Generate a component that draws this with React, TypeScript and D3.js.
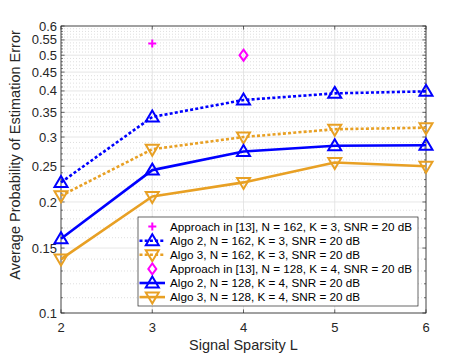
import React from "react";
import * as d3 from "d3";

const xVals = [2, 3, 4, 5, 6];
const algo2N162 = [0.226, 0.340, 0.378, 0.394, 0.399];
const algo3N162 = [0.208, 0.278, 0.300, 0.315, 0.318];
const algo2N128 = [0.159, 0.244, 0.274, 0.284, 0.285];
const algo3N128 = [0.140, 0.207, 0.226, 0.256, 0.250];
const approachN162 = [{ x: 3, y: 0.538 }];
const approachN128 = [{ x: 4, y: 0.50 }];
const yTicks = [0.1, 0.15, 0.2, 0.25, 0.3, 0.35, 0.4, 0.45, 0.5, 0.55, 0.6];
const yTickLabels = ["0.1", "0.15", "0.2", "0.25", "0.3", "0.35", "0.4", "0.45", "0.5", "0.55", "0.6"];
const legendLabels = [
  "Approach in [13], N = 162, K = 3, SNR = 20 dB",
  "Algo 2, N = 162, K = 3, SNR = 20 dB",
  "Algo 3, N = 162, K = 3, SNR = 20 dB",
  "Approach in [13], N = 128, K = 4, SNR = 20 dB",
  "Algo 2, N = 128, K = 4, SNR = 20 dB",
  "Algo 3, N = 128, K = 4, SNR = 20 dB",
];

const W = 471, H = 353;
const L = 61, R = 426, T = 26, B = 313;
const BLUE = "#0000FF";
const ORANGE = "#E8A024";
const MAG = "#FF00FF";
const AX = "#262626";
const DOT = "3,2.2";
const FONT = "'Liberation Sans', Arial, Helvetica, sans-serif";

function Marker({ type, x, y, color }: { type: string; x: number; y: number; color: string }) {
  if (type === "up") {
    return <path d={`M${x},${y - 6.5}L${x + 6.5},${y + 4.5}L${x - 6.5},${y + 4.5}Z`} fill="none" stroke={color} strokeWidth={2} strokeLinejoin="miter" />;
  }
  if (type === "down") {
    return <path d={`M${x},${y + 6.5}L${x + 6.5},${y - 4.5}L${x - 6.5},${y - 4.5}Z`} fill="none" stroke={color} strokeWidth={2} strokeLinejoin="miter" />;
  }
  if (type === "plus") {
    return <path d={`M${x - 4},${y}H${x + 4}M${x},${y - 4}V${y + 4}`} stroke={color} strokeWidth={2} fill="none" />;
  }
  return <path d={`M${x},${y - 5.5}L${x + 4},${y}L${x},${y + 5.5}L${x - 4},${y}Z`} fill="none" stroke={color} strokeWidth={2} />;
}

export default function App() {
  const x = d3.scaleLinear().domain([2, 6]).range([L, R]);
  const y = d3.scaleLog().domain([0.1, 0.6]).range([B, T]);
  const line = d3.line<number>().x((_, i) => x(xVals[i])).y((d) => y(d));

  const minor = d3.range(11, 60).map((v) => v / 100).filter((v) => Math.round(v * 100) % 5 !== 0);

  const series = [
    { data: algo2N162, color: BLUE, dash: DOT, marker: "up" },
    { data: algo3N162, color: ORANGE, dash: DOT, marker: "down" },
    { data: algo2N128, color: BLUE, dash: null, marker: "up" },
    { data: algo3N128, color: ORANGE, dash: null, marker: "down" },
  ];

  const legendItems = [
    { marker: "plus", color: MAG, dash: "none" },
    { marker: "up", color: BLUE, dash: DOT },
    { marker: "down", color: ORANGE, dash: DOT },
    { marker: "diamond", color: MAG, dash: "none" },
    { marker: "up", color: BLUE, dash: null },
    { marker: "down", color: ORANGE, dash: null },
  ];
  const lgX = 138, lgY = 217, lgW = 280, lgH = 89, rowH = 14.1, row0 = 226.6;

  return (
    <svg width={W} height={H} style={{ position: "absolute", left: 0, top: 0, background: "#fff" }} fontFamily={FONT}>
      <rect x={0} y={0} width={W} height={H} fill="#fff" />
      {minor.map((v) => (
        <line key={"mg" + v} x1={L} x2={R} y1={y(v)} y2={y(v)} stroke="#d0d0d0" strokeWidth={0.7} strokeDasharray="1,2" />
      ))}
      {yTicks.map((v) => (
        <line key={"g" + v} x1={L} x2={R} y1={y(v)} y2={y(v)} stroke="#e0e0e0" strokeWidth={0.8} />
      ))}
      {xVals.map((v) => (
        <line key={"gx" + v} x1={x(v)} x2={x(v)} y1={T} y2={B} stroke="#e0e0e0" strokeWidth={0.8} />
      ))}
      {minor.map((v) => (
        <g key={"mt" + v}>
          <line x1={L} x2={L + 2} y1={y(v)} y2={y(v)} stroke={AX} strokeWidth={0.6} />
          <line x1={R} x2={R - 2} y1={y(v)} y2={y(v)} stroke={AX} strokeWidth={0.6} />
        </g>
      ))}
      {yTicks.map((v) => (
        <g key={"t" + v}>
          <line x1={L} x2={L + 3.6} y1={y(v)} y2={y(v)} stroke={AX} strokeWidth={0.7} />
          <line x1={R} x2={R - 3.6} y1={y(v)} y2={y(v)} stroke={AX} strokeWidth={0.7} />
        </g>
      ))}
      {xVals.map((v) => (
        <g key={"tx" + v}>
          <line x1={x(v)} x2={x(v)} y1={B} y2={B - 3.6} stroke={AX} strokeWidth={0.7} />
          <line x1={x(v)} x2={x(v)} y1={T} y2={T + 3.6} stroke={AX} strokeWidth={0.7} />
        </g>
      ))}
      <rect x={L} y={T} width={R - L} height={B - T} fill="none" stroke={AX} strokeWidth={0.8} />
      {yTicks.map((v, i) => (
        <text key={"yl" + v} x={L - 4} y={y(v)} dy="0.35em" textAnchor="end" fontSize={13} fill={AX}>
          {yTickLabels[i]}
        </text>
      ))}
      {xVals.map((v) => (
        <text key={"xl" + v} x={x(v)} y={327} dy="0.35em" textAnchor="middle" fontSize={13} fill={AX}>
          {v}
        </text>
      ))}
      <text x={(L + R) / 2} y={345} dy="0.35em" textAnchor="middle" fontSize={14.5} fill={AX}>
        Signal Sparsity L
      </text>
      <text transform={`translate(15,${155}) rotate(-90)`} textAnchor="middle" dy="0.35em" fontSize={14.5} fill={AX}>
        Average Probability of Estimation Error
      </text>
      {series.map((s, i) => (
        <g key={"s" + i}>
          <path d={line(s.data) || ""} fill="none" stroke={s.color} strokeWidth={2.6} strokeDasharray={s.dash || undefined} strokeLinejoin="round" />
          {s.data.map((d, j) => (
            <Marker key={j} type={s.marker} x={x(xVals[j])} y={y(d)} color={s.color} />
          ))}
        </g>
      ))}
      {approachN162.map((p, i) => (
        <Marker key={"a1" + i} type="plus" x={x(p.x)} y={y(p.y)} color={MAG} />
      ))}
      {approachN128.map((p, i) => (
        <Marker key={"a2" + i} type="diamond" x={x(p.x)} y={y(p.y)} color={MAG} />
      ))}
      <rect x={lgX} y={lgY} width={lgW} height={lgH} fill="#fff" stroke={AX} strokeWidth={0.7} />
      {legendItems.map((it, i) => {
        const cy = row0 + i * rowH;
        return (
          <g key={"lg" + i}>
            {it.dash !== "none" && (
              <line x1={139.5} x2={165} y1={cy} y2={cy} stroke={it.color} strokeWidth={2.6} strokeDasharray={it.dash || undefined} />
            )}
            <Marker type={it.marker} x={152.3} y={cy} color={it.color} />
            <text x={170} y={cy} dy="0.35em" fontSize={11.7} fill="#000">
              {legendLabels[i]}
            </text>
          </g>
        );
      })}
    </svg>
  );
}
